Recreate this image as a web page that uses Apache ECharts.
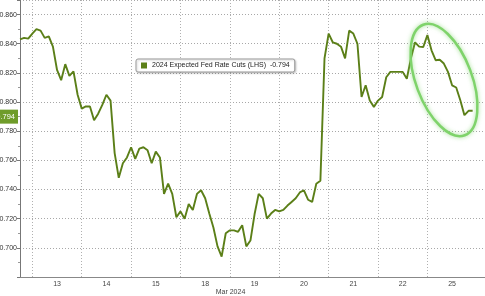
<!DOCTYPE html>
<html>
<head>
<meta charset="utf-8">
<script src="https://cdn.jsdelivr.net/npm/echarts@6/dist/echarts.min.js"></script>
<style>
html,body{margin:0;padding:0;background:#fff;}
#chart{width:485px;height:296px;}
</style>
</head>
<body>
<div id="chart"></div>
<script>
// Trading days shown (Mar 2024); day 12 is only partly visible at the left edge
const dayNames = ['12', '13', '14', '15', '18', '19', '20', '21', '22', '25', '26'];
const slotsPerDay = 12;     // intraday time slots per trading day
const firstDaySlotOffset = 9; // slots of day 12 hidden left of the axis
const totalSlots = 114;

// 2024 Expected Fed Rate Cuts (LHS), one value per intraday slot
const cutValues = [
  -0.843, -0.844, -0.8435, -0.847, -0.850, -0.849, -0.844, -0.845, -0.838, -0.822,
  -0.815, -0.826, -0.818, -0.821, -0.805, -0.7955, -0.797, -0.797, -0.7875, -0.792,
  -0.798, -0.805, -0.801, -0.765, -0.748, -0.758, -0.762, -0.769, -0.761, -0.768,
  -0.769, -0.767, -0.758, -0.766, -0.762, -0.737, -0.744, -0.737, -0.721, -0.725,
  -0.720, -0.730, -0.726, -0.737, -0.7395, -0.734, -0.7235, -0.714, -0.701, -0.694,
  -0.710, -0.712, -0.712, -0.711, -0.7155, -0.701, -0.705, -0.723, -0.737, -0.734,
  -0.720, -0.7235, -0.726, -0.725, -0.726, -0.729, -0.7315, -0.734, -0.738, -0.7395,
  -0.733, -0.7315, -0.744, -0.746, -0.830, -0.847, -0.841, -0.840, -0.838, -0.830,
  -0.849, -0.847, -0.840, -0.8035, -0.8115, -0.801, -0.7967, -0.801, -0.8035, -0.817,
  -0.8207, -0.8207, -0.8207, -0.8207, -0.816, -0.830, -0.841, -0.838, -0.8378, -0.846,
  -0.8355, -0.8287, -0.829, -0.8264, -0.8207, -0.8115, -0.810, -0.8012, -0.791, -0.794,
  -0.794
];
const seriesName = '2024 Expected Fed Rate Cuts (LHS)';
const monthLabel = 'Mar 2024';

const slots = [];
for (let j = 0; j < totalSlots; j++) slots.push(String(j));
function dayIndexOf(j) { return Math.floor((j + firstDaySlotOffset) / slotsPerDay); }
function posInDay(j) { return (j + firstDaySlotOffset) % slotsPerDay; }
const lastVal = cutValues[cutValues.length - 1];

const chart = echarts.init(document.getElementById('chart'), null, {renderer: 'canvas'});
chart.setOption({
  animation: false,
  backgroundColor: '#fff',
  grid: {left: 20, right: 0, top: 0, bottom: 19, containLabel: false, outerBoundsMode: 'none'},
  legend: {
    left: 136, top: 59,
    padding: [3, 5, 3, 5],
    itemWidth: 6, itemHeight: 6,
    icon: 'rect',
    backgroundColor: '#fff',
    borderColor: '#999', borderWidth: 1, borderRadius: 2,
    shadowBlur: 2, shadowColor: 'rgba(0,0,0,0.2)', shadowOffsetX: 1, shadowOffsetY: 1,
    textStyle: {fontSize: 7, color: '#222', fontFamily: 'Liberation Sans'},
    formatter: (n) => n + '  ' + lastVal.toFixed(3),
    data: [seriesName]
  },
  xAxis: {
    type: 'category',
    data: slots,
    boundaryGap: false,
    axisLine: {show: true, lineStyle: {color: '#888', width: 1}},
    axisTick: {show: false},
    axisLabel: {
      interval: (idx) => posInDay(idx) === slotsPerDay / 2 && dayIndexOf(idx) >= 1,
      formatter: (v, idx) => dayNames[dayIndexOf(Number(v))],
      fontSize: 7, color: '#444', margin: 4, fontFamily: 'Liberation Sans'
    },
    splitLine: {
      show: true,
      interval: (idx) => posInDay(idx) === 0 && idx < totalSlots - 4,
      lineStyle: {color: '#b0b0b0', type: [1, 2], width: 1}
    },
    name: monthLabel,
    nameLocation: 'middle',
    nameGap: 12,
    nameMoveOverlap: false,
    nameTextStyle: {fontSize: 7, color: '#444', fontFamily: 'Liberation Sans', padding: [0, 44, 0, 0]}
  },
  yAxis: {
    type: 'value',
    inverse: true,
    min: -0.87, max: -0.68,
    splitNumber: 10,
    axisLine: {show: true, lineStyle: {color: '#777', width: 1}},
    axisTick: {show: true, length: 3, lineStyle: {color: '#777'}},
    minorTick: {show: true, splitNumber: 2, length: 2, lineStyle: {color: '#999'}},
    axisLabel: {
      showMinLabel: false, showMaxLabel: false,
      formatter: (v) => v.toFixed(3),
      fontSize: 7, color: '#333', margin: 3, fontFamily: 'Liberation Sans'
    },
    splitLine: {show: true, lineStyle: {color: '#a8a8a8', type: [1, 2], width: 1}}
  },
  series: [{
    name: seriesName,
    type: 'line',
    data: cutValues,
    symbol: 'none',
    lineStyle: {color: '#5b7f18', width: 1.9},
    itemStyle: {color: '#5b7f18'},
    markLine: {
      silent: true,
      symbol: ['none', 'none'],
      lineStyle: {width: 0, color: 'rgba(0,0,0,0)'},
      data: [{yAxis: lastVal}],
      label: {
        show: true, position: 'start', distance: 2,
        formatter: () => lastVal.toFixed(3),
        backgroundColor: '#6f9c2a', color: '#fff',
        fontSize: 7.5, padding: [3, 3, 3, 3], fontFamily: 'Liberation Sans'
      }
    }
  }],
  graphic: [{
    type: 'ellipse',
    x: 444, y: 80,
    rotation: 0.36,
    shape: {cx: 0, cy: 0, rx: 28, ry: 59},
    style: {fill: 'none', stroke: '#7fd36b', lineWidth: 2.5, shadowBlur: 4, shadowColor: 'rgba(120,210,100,0.7)'},
    z: 100
  }]
});
</script>
</body>
</html>
